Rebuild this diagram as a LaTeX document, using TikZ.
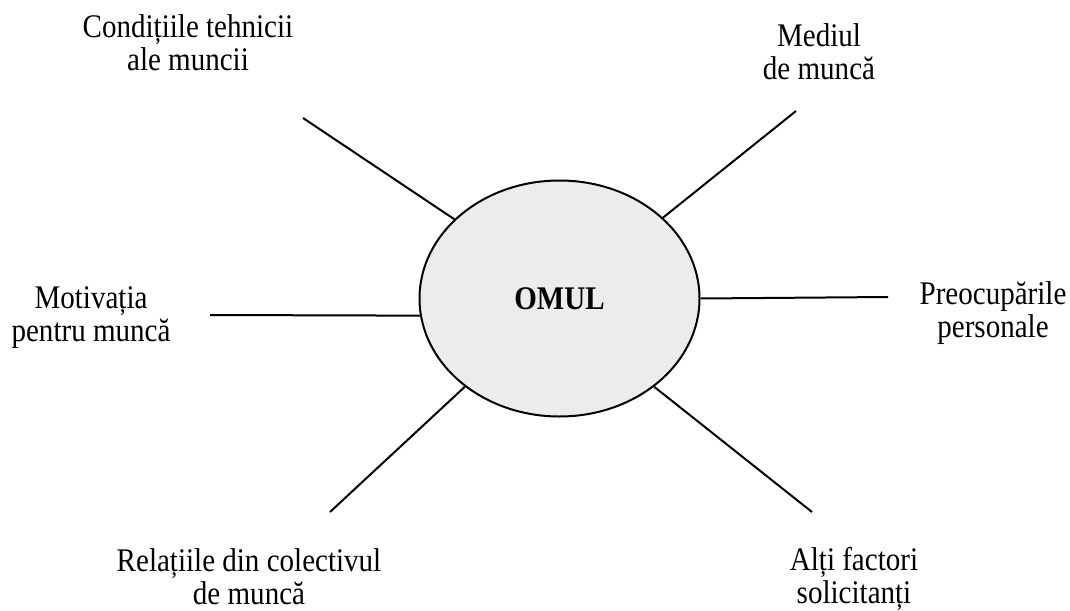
\documentclass[tikz,border=0pt]{standalone}
\usepackage{fontspec}
\setmainfont{Liberation Serif}[FakeStretch=0.88]
\usetikzlibrary{shapes.geometric}

\begin{document}
\begin{tikzpicture}[x=0.5pt, y=-0.5pt, line width=1pt,
    main/.style = {draw, ellipse, fill=gray!15, minimum width=140pt, minimum height=118pt, inner sep=0pt, font=\fontsize{16.5}{16.5}\selectfont\bfseries},
    factor/.style = {align=center, inner sep=0pt, font=\fontsize{16.5}{16.5}\selectfont}]
    \useasboundingbox (0,0) rectangle (1070,610);

    \node[main] (omul) at (559.5,298.5) {OMUL};

    \node[factor] (cond) at (188,43) {Condițiile tehnicii\\ale muncii};
    \node[factor] (mediu) at (819,52.2) {Mediul\\de muncă};
    \node[factor] (motiv) at (91,317.7) {Motivația\\pentru muncă};
    \node[factor] (preoc) at (993,313.3) {Preocupările\\personale};
    \node[factor] (relat) at (249,576.5) {Relațiile din colectivul\\de muncă};
    \node[factor] (alti) at (854,579) {Alți factori\\solicitanți};

    \coordinate (endcond) at (303,118);
    \coordinate (endmediu) at (796,111);
    \coordinate (endmotiv) at (210,315);
    \coordinate (endpreoc) at (888,297);
    \coordinate (endrelat) at (330,512);
    \coordinate (endalti) at (812,512);

    \draw (omul.143) -- (endcond);
    \draw (omul.38.6) -- (endmediu);
    \draw (omul.187) -- (endmotiv);
    \draw (omul.0) -- (endpreoc);
    \draw (omul.223) -- (endrelat);
    \draw (omul.317) -- (endalti);
\end{tikzpicture}
\end{document}
